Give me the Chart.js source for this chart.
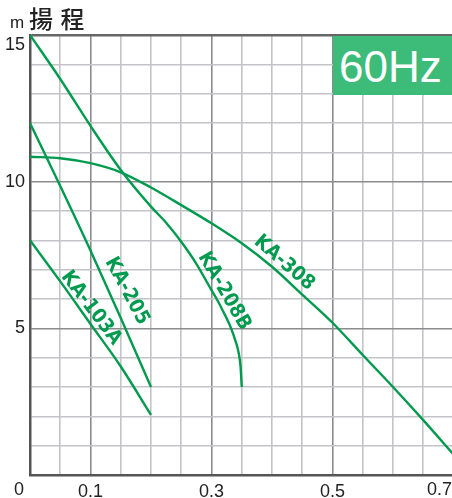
<!DOCTYPE html>
<html>
<head>
<meta charset="utf-8">
<script src="https://cdn.jsdelivr.net/npm/chart.js@4.4.1/dist/chart.umd.min.js"></script>
<style>
  html, body { margin: 0; padding: 0; background: #fff; overflow: hidden; }
  #wrap { position: relative; width: 452px; height: 498px; overflow: hidden; }
  #chart { position: absolute; left: 0; top: 0; }
  #unit { position: absolute; left: 10px; top: 13px; font: 17px "Liberation Sans", Arial, sans-serif; color: #222; }
  #title { position: absolute; left: 29px; top: 0px; font: 500 24px "Noto Sans CJK TC", "Noto Sans CJK SC", sans-serif; color: #222; letter-spacing: 1px; }
  #hz { position: absolute; left: 333px; top: 36px; width: 119px; height: 59px; background: #3dbb79;
        color: #fff; font: 44px "Liberation Sans", Arial, sans-serif; line-height: 61px; padding-left: 6px; box-sizing: border-box; }
</style>
</head>
<body>
<div id="wrap">
  <canvas id="chart" width="470" height="498"></canvas>
  <div id="unit">m</div>
  <div id="title">揚&nbsp;程</div>
  <div id="hz">60Hz</div>
</div>
<script>
// flow (m³/min) and head (m)
const flow103A = [0, 0.05, 0.1, 0.15, 0.2];
const head103A = [8.0, 6.6, 5.15, 3.7, 2.05];

const flow205 = [0, 0.05, 0.1, 0.15, 0.2];
const head205 = [12.0, 9.85, 7.65, 5.35, 3.0];

const flow208B = [0, 0.05, 0.1, 0.15, 0.2, 0.225, 0.25, 0.275, 0.3, 0.31, 0.32, 0.33, 0.34, 0.345, 0.348, 0.35];
const head208B = [15, 13.5, 11.9, 10.4, 9.15, 8.6, 7.95, 7.2, 6.3, 5.95, 5.55, 5.12, 4.55, 4.15, 3.7, 3.0];

const flow308 = [0, 0.05, 0.1, 0.15, 0.2, 0.25, 0.3, 0.35, 0.4, 0.45, 0.5, 0.55, 0.6, 0.65, 0.7];
const head308 = [10.85, 10.8, 10.63, 10.32, 9.8, 9.2, 8.58, 7.9, 7.1, 6.15, 5.19, 4.09, 3.0, 1.87, 0.7];

const modelNames = ['KA-103A', 'KA-205', 'KA-208B', 'KA-308'];
const xTickLabels = ['0.1', '0.3', '0.5'];
const yTickLabels = ['5', '10'];

const green = '#009b4e';
const gridLight = '#c3c3c8';
const gridDark = '#8c8c8f';
const axisColor = '#555';

const toPoints = (xs, ys) => xs.map((x, i) => ({ x, y: ys[i] }));
const series = [
    toPoints(flow103A, head103A),
    toPoints(flow205, head205),
    toPoints(flow208B, head208B),
    toPoints(flow308, head308)
];

const fmtX = v => String(Math.round(v * 100) / 100);
const tickFont = '18px "Liberation Sans", Arial, sans-serif';

// curve names written along the lines (data coords + angle)
const curveLabels = {
    id: 'curveLabels',
    afterDatasetsDraw(chart) {
        const { ctx, scales: { x, y } } = chart;
        const spots = [
            { x: 0.101, y: 5.69, a: 53 },
            { x: 0.160, y: 6.27, a: 62 },
            { x: 0.321, y: 6.27, a: 60 },
            { x: 0.420, y: 7.23, a: 41 }
        ];
        ctx.save();
        ctx.fillStyle = green;
        ctx.font = '600 20px "Liberation Sans Narrow", "DejaVu Sans Condensed", "Liberation Sans", sans-serif';
        ctx.textAlign = 'center';
        ctx.textBaseline = 'middle';
        modelNames.forEach((name, i) => {
            const s = spots[i];
            ctx.save();
            ctx.translate(x.getPixelForValue(s.x), y.getPixelForValue(s.y));
            ctx.rotate(s.a * Math.PI / 180);
            ctx.fillText(name, 0, 0);
            ctx.restore();
        });
        // labels that sit off their grid lines in the original
        ctx.fillStyle = '#222';
        ctx.font = tickFont;
        ctx.textBaseline = 'top';
        ctx.fillText('0', 19, 481);
        ctx.textAlign = 'left';
        ctx.fillText('0.7', 427, 481);
        ctx.textAlign = 'right';
        ctx.fillText('15', 25, y.getPixelForValue(15) + 1);
        ctx.restore();
    }
};

new Chart(document.getElementById('chart'), {
    type: 'line',
    data: {
        datasets: series.map((data, i) => ({
            label: modelNames[i],
            data,
            borderColor: green,
            borderWidth: 2.4,
            pointRadius: 0,
            fill: false,
            cubicInterpolationMode: 'monotone'
        }))
    },
    options: {
        responsive: false,
        animation: false,
        layout: { padding: { top: 35, right: 16.5, left: 0, bottom: 0 } },
        plugins: { legend: { display: false }, tooltip: { enabled: false } },
        scales: {
            x: {
                type: 'linear',
                min: 0,
                max: 0.7,
                afterFit: s => { s.height = 23; },
                ticks: {
                    stepSize: 0.05,
                    autoSkip: false,
                    maxRotation: 0,
                    padding: 6,
                    color: '#222',
                    font: { family: '"Liberation Sans", Arial, sans-serif', size: 18 },
                    callback: v => xTickLabels.includes(fmtX(v)) ? fmtX(v) : ''
                },
                grid: {
                    drawTicks: false,
                    color: c => [...xTickLabels, '0.7'].includes(fmtX(c.tick.value)) ? gridDark : gridLight,
                    lineWidth: 1.6
                },
                border: { color: axisColor, width: 2.5 }
            },
            y: {
                min: 0,
                max: 15,
                afterFit: s => { s.width = 30; },
                ticks: {
                    stepSize: 1,
                    padding: 5,
                    color: '#222',
                    font: { family: '"Liberation Sans", Arial, sans-serif', size: 18 },
                    callback: v => yTickLabels.includes(String(v)) ? String(v) : ''
                },
                grid: {
                    drawTicks: false,
                    color: c => c.tick.value === 15 ? '#666' : (yTickLabels.includes(String(c.tick.value)) ? gridDark : gridLight),
                    lineWidth: c => c.tick.value === 15 ? 2.4 : 1.6
                },
                border: { color: axisColor, width: 2.5 }
            }
        }
    },
    plugins: [curveLabels]
});
</script>
</body>
</html>
